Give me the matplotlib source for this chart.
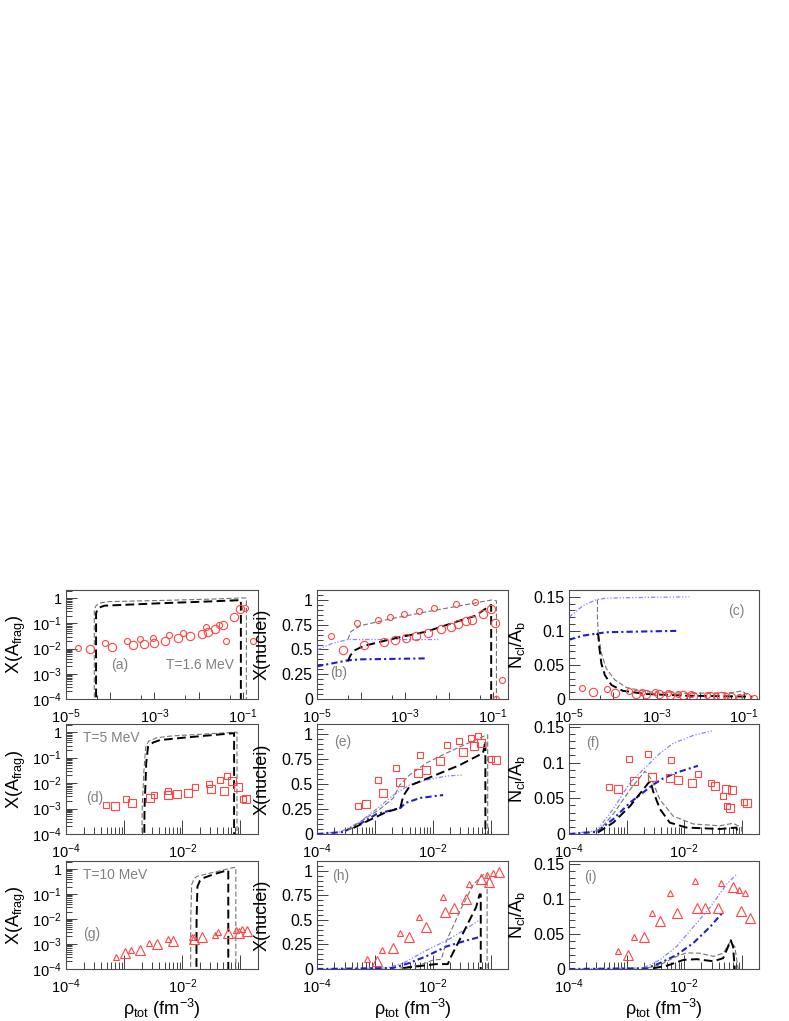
import numpy as np
import matplotlib
matplotlib.use('Agg')
import matplotlib.pyplot as plt
from matplotlib.ticker import FixedLocator, FuncFormatter, NullFormatter, MultipleLocator

plt.rcParams['font.family'] = ['Liberation Sans', 'DejaVu Sans']
plt.rcParams['mathtext.fontset'] = 'custom'
plt.rcParams['mathtext.rm'] = 'Liberation Sans'
plt.rcParams['mathtext.it'] = 'Liberation Sans:italic'
plt.rcParams['mathtext.bf'] = 'Liberation Sans:bold'

# ---- data (log10 of density for x; log10 for log-y panels) ----
# panel (a)  T=1.6 MeV
a_small_lx = [-4.72, -4.12, -3.63, -3.33, -3.03, -2.68, -2.35, -1.84, -1.54, -1.38, -0.95, -0.78]
a_small_ly = [-1.96, -1.79, -1.69, -1.63, -1.59, -1.48, -1.37, -1.16, -1.08, -1.69, -0.41, -1.69]
a_large_lx = [-4.45, -3.96, -3.48, -3.24, -3.00, -2.75, -2.47, -2.20, -1.93, -1.79, -1.63, -1.44, -1.21, -1.06]
a_large_ly = [-2.03, -1.94, -1.86, -1.80, -1.77, -1.69, -1.59, -1.51, -1.41, -1.34, -1.23, -1.07, -0.76, -0.45]
a_black_lx = [-4.32, -4.32, -4.29, -4.24, -4.13, -2.82, -1.73, -1.06, -1.045, -1.045]
a_black_ly = [-6.0, -0.60, -0.45, -0.37, -0.30, -0.20, -0.13, -0.08, -0.08, -6.0]
a_gray_lx = [-4.36, -4.36, -4.32, -4.24, -4.07, -2.82, -1.73, -0.99, -0.92, -0.92]
a_gray_ly = [-6.0, -0.45, -0.30, -0.20, -0.14, -0.09, -0.04, 0.01, 0.0, -6.0]

# panel (b)
b_small_lx = [-4.69, -4.09, -3.61, -3.33, -3.03, -2.67, -2.33, -1.85, -1.40, -0.92, -0.80]
b_small_y = [0.64, 0.77, 0.80, 0.825, 0.86, 0.89, 0.92, 0.96, 0.98, 0.0, 0.19]
b_large_lx = [-4.42, -3.94, -3.48, -3.23, -2.98, -2.74, -2.48, -2.19, -1.95, -1.80, -1.61, -1.47, -1.22, -1.04, -0.96]
b_large_y = [0.49, 0.55, 0.58, 0.60, 0.62, 0.64, 0.67, 0.71, 0.73, 0.76, 0.79, 0.80, 0.855, 0.905, 0.77]
b_gray_lx = [-4.30, -4.23, -4.01, -3.26, -2.51, -1.76, -1.02, -0.92, -0.92]
b_gray_y = [0.60, 0.68, 0.74, 0.815, 0.88, 0.94, 1.00, 0.99, 0.0]
b_black_lx = [-4.30, -4.24, -4.15, -3.94, -3.26, -2.51, -1.76, -1.40, -1.04, -1.04]
b_black_y = [0.38, 0.44, 0.49, 0.535, 0.61, 0.68, 0.79, 0.84, 0.95, 0.0]
b_lblue_lx = [-5.0, -4.66, -4.30, -3.37, -2.21]
b_lblue_y = [0.495, 0.56, 0.60, 0.60, 0.60]
b_dblue_lx = [-5.0, -4.30, -4.01, -2.51]
b_dblue_y = [0.33, 0.39, 0.40, 0.41]

# panel (c)
c_small_lx = [-4.71, -4.13, -3.62, -3.33, -3.03, -2.74, -2.50, -2.22, -1.84, -1.64, -1.42, -1.11, -0.77]
c_small_y = [0.0166, 0.0142, 0.0117, 0.0107, 0.0098, 0.0083, 0.0073, 0.0068, 0.0059, 0.0049, 0.0044, 0.0034, 0.001]
c_large_lx = [-4.45, -3.95, -3.46, -3.23, -2.95, -2.69, -2.40, -2.17, -1.78, -1.53, -1.30, -0.95]
c_large_y = [0.0098, 0.0083, 0.0073, 0.0073, 0.0073, 0.0059, 0.0054, 0.0049, 0.0044, 0.0044, 0.0034, 0.0024]
c_lblue_lx = [-5.0, -4.68, -4.37, -4.14, -3.38, -2.25]
c_lblue_y = [0.12, 0.137, 0.146, 0.148, 0.149, 0.15]
c_dblue_lx = [-5.0, -4.68, -4.37, -4.14, -3.38, -2.55]
c_dblue_y = [0.087, 0.093, 0.096, 0.098, 0.099, 0.10]
c_black_lx = [-4.37, -4.33, -4.31, -4.26, -4.18, -4.03, -3.77, -3.23, -2.32, -0.81]
c_black_y = [0.096, 0.094, 0.077, 0.052, 0.035, 0.0205, 0.012, 0.0073, 0.0049, 0.0034]
c_gray_lx = [-4.35, -4.35, -4.33, -4.26, -4.15, -3.95, -3.69, -3.23, -2.32, -1.27, -1.04, -0.89]
c_gray_y = [0.146, 0.12, 0.096, 0.067, 0.045, 0.028, 0.017, 0.0107, 0.0083, 0.0093, 0.012, 0.0034]

# panel (d)  T=5 MeV
d_small_lx = [-3.31, -2.96, -2.49, -2.24, -1.78, -1.55, -1.35, -1.23, -0.95]
d_small_ly = [-2.87, -2.63, -2.47, -2.31, -2.17, -2.04, -1.88, -1.72, -2.63]
d_large_lx = [-3.16, -2.87, -2.56, -2.24, -2.10, -1.90, -1.50, -1.29, -1.14, -1.04, -0.90]
d_large_ly = [-2.90, -2.77, -2.57, -2.47, -2.44, -2.39, -2.24, -2.30, -1.92, -2.17, -2.64]
d_black_lx = [-2.66, -2.65, -2.62, -2.59, -2.50, -2.385, -2.0, -1.125, -1.11, -1.11]
d_black_ly = [-6.0, -3.0, -1.2, -0.57, -0.40, -0.31, -0.22, -0.04, -0.04, -6.0]
d_gray_lx = [-2.70, -2.69, -2.66, -2.63, -2.58, -2.44, -2.20, -1.08, -1.06, -1.06]
d_gray_ly = [-6.0, -3.0, -1.5, -0.60, -0.35, -0.22, -0.15, 0.0, 0.0, -6.0]

# panel (e)
e_small_lx = [-3.30, -2.94, -2.63, -2.22, -1.75, -1.55, -1.33, -1.21, -0.99]
e_small_y = [0.28, 0.54, 0.66, 0.79, 0.89, 0.93, 0.96, 0.98, 0.75]
e_large_lx = [-3.16, -2.86, -2.57, -2.25, -2.11, -1.88, -1.48, -1.29, -1.17, -0.90]
e_large_y = [0.30, 0.41, 0.52, 0.61, 0.64, 0.73, 0.82, 0.88, 0.915, 0.74]
e_gray_lx = [-3.46, -3.26, -2.91, -2.68, -2.57, -2.40, -2.11, -1.76, -1.42, -1.07, -1.05, -1.05]
e_gray_y = [0.04, 0.12, 0.25, 0.36, 0.49, 0.59, 0.71, 0.81, 0.90, 0.99, 0.99, 0.0]
e_black_lx = [-3.37, -3.09, -2.80, -2.56, -2.51, -2.39, -1.99, -1.53, -1.13, -1.09, -1.09]
e_black_y = [0.06, 0.14, 0.22, 0.26, 0.38, 0.485, 0.58, 0.69, 0.81, 0.93, 0.0]
e_lblue_lx = [-4.0, -3.60, -3.26, -2.97, -2.68, -2.40, -2.11, -1.76, -1.48]
e_lblue_y = [0.0, 0.02, 0.12, 0.25, 0.39, 0.49, 0.54, 0.58, 0.59]
e_dblue_lx = [-4.0, -3.55, -3.26, -2.97, -2.56, -2.47, -2.22, -1.82]
e_dblue_y = [0.0, 0.02, 0.10, 0.20, 0.26, 0.31, 0.36, 0.39]

# panel (f)
f_small_lx = [-3.30, -2.95, -2.62, -2.22, -1.76, -1.54, -1.32, -1.25, -0.96]
f_small_y = [0.066, 0.105, 0.112, 0.104, 0.084, 0.071, 0.053, 0.039, 0.045]
f_large_lx = [-3.15, -2.87, -2.56, -2.25, -2.10, -1.87, -1.47, -1.27, -1.20, -1.16, -0.90]
f_large_y = [0.063, 0.074, 0.080, 0.078, 0.076, 0.072, 0.067, 0.063, 0.037, 0.061, 0.044]
f_lblue_lx = [-4.0, -3.52, -3.23, -2.94, -2.65, -2.42, -2.19, -1.84, -1.49]
f_lblue_y = [0.0, 0.0046, 0.035, 0.072, 0.095, 0.113, 0.127, 0.138, 0.145]
f_dblue_lx = [-4.0, -3.52, -3.23, -2.94, -2.65, -2.54, -2.36, -2.13, -1.76]
f_dblue_y = [0.0, 0.003, 0.021, 0.044, 0.062, 0.069, 0.078, 0.086, 0.0955]
f_gray_lx = [-3.50, -3.23, -2.94, -2.68, -2.56, -2.42, -2.19, -1.84, -1.38, -1.15, -1.00, -1.00]
f_gray_y = [0.003, 0.028, 0.062, 0.088, 0.076, 0.048, 0.025, 0.014, 0.0115, 0.015, 0.009, 0.0]
f_black_lx = [-3.50, -3.23, -2.94, -2.62, -2.58, -2.54, -2.42, -2.25, -1.96, -1.38, -1.09, -1.07]
f_black_y = [0.002, 0.016, 0.039, 0.0715, 0.074, 0.060, 0.035, 0.016, 0.009, 0.007, 0.009, 0.0]

# panel (g)  T=10 MeV
g_small_lx = [-3.14, -2.88, -2.57, -2.25, -1.84, -1.44, -1.38, -1.07, -0.97]
g_small_ly = [-3.50, -3.23, -2.96, -2.79, -2.70, -2.65, -2.52, -2.43, -2.40]
g_large_lx = [-2.99, -2.73, -2.44, -2.16, -1.80, -1.66, -1.22, -1.03, -0.88]
g_large_ly = [-3.36, -3.23, -3.00, -2.86, -2.79, -2.72, -2.56, -2.54, -2.46]
g_gray_lx = [-1.86, -1.855, -1.84, -1.80, -1.75, -1.50, -1.12, -1.08, -1.08]
g_gray_ly = [-6.0, -2.0, -0.63, -0.40, -0.29, -0.15, 0.06, 0.06, -6.0]
g_black_lx = [-1.76, -1.755, -1.74, -1.70, -1.64, -1.45, -1.24, -1.21, -1.21]
g_black_ly = [-6.0, -2.0, -0.70, -0.48, -0.36, -0.20, -0.06, -0.06, -6.0]

# panel (h)
h_small_lx = [-3.13, -2.87, -2.57, -2.24, -1.82, -1.37, -1.06, -0.96]
h_small_y = [0.10, 0.19, 0.37, 0.53, 0.73, 0.87, 0.96, 0.98]
h_large_lx = [-2.97, -2.69, -2.41, -2.11, -1.79, -1.63, -1.42, -1.16, -1.02, -0.86]
h_large_y = [0.083, 0.21, 0.33, 0.43, 0.58, 0.62, 0.71, 0.92, 0.89, 0.99]
h_lblue_lx = [-4.0, -2.80, -2.51, -2.11, -1.76, -1.42, -1.19]
h_lblue_y = [0.0, 0.01, 0.06, 0.19, 0.29, 0.41, 0.50]
h_dblue_lx = [-4.0, -2.69, -2.41, -2.11, -1.76, -1.42, -1.16]
h_dblue_y = [0.0, 0.01, 0.06, 0.13, 0.23, 0.29, 0.33]
h_gray_lx = [-2.57, -2.22, -2.00, -1.85, -1.76, -1.53, -1.30, -1.13, -1.06, -1.06]
h_gray_y = [0.01, 0.04, 0.09, 0.10, 0.29, 0.59, 0.86, 0.96, 0.96, 0.0]
h_black_lx = [-2.51, -2.22, -1.94, -1.74, -1.68, -1.48, -1.25, -1.19, -1.17, -1.17]
h_black_y = [0.01, 0.03, 0.05, 0.05, 0.13, 0.36, 0.63, 0.76, 0.76, 0.0]

# panel (i)
i_small_lx = [-3.14, -2.87, -2.56, -2.24, -1.81, -1.36, -1.04, -0.94]
i_small_y = [0.025, 0.045, 0.080, 0.108, 0.125, 0.122, 0.1125, 0.108]
i_large_lx = [-2.98, -2.70, -2.42, -2.13, -1.78, -1.63, -1.41, -1.15, -1.02, -0.86]
i_large_y = [0.020, 0.045, 0.068, 0.080, 0.087, 0.087, 0.087, 0.117, 0.083, 0.073]
i_lblue_lx = [-4.0, -2.71, -2.42, -2.13, -1.84, -1.55, -1.26, -1.09]
i_lblue_y = [0.0, 0.0014, 0.013, 0.032, 0.060, 0.088, 0.121, 0.135]
i_dblue_lx = [-4.0, -2.65, -2.42, -2.13, -1.84, -1.55, -1.31]
i_dblue_y = [0.0, 0.001, 0.0084, 0.020, 0.037, 0.060, 0.0825]
i_gray_lx = [-2.65, -2.42, -2.13, -1.96, -1.73, -1.49, -1.32, -1.20, -1.12, -1.06]
i_gray_y = [0.0014, 0.006, 0.018, 0.023, 0.0225, 0.018, 0.0225, 0.039, 0.032, 0.0]
i_black_lx = [-2.54, -2.30, -2.01, -1.78, -1.49, -1.32, -1.19, -1.15, -1.12]
i_black_y = [0.001, 0.0047, 0.013, 0.014, 0.011, 0.0155, 0.041, 0.032, 0.0]

RED = '#ff4646'
LBLUE = '#8484ff'
DBLUE = '#1e1ed2'

W, H = 789, 1021
fig = plt.figure(figsize=(W / 100, H / 100), dpi=100)
cols = [(66, 258), (317, 508), (569, 759)]
rows = [(590, 699), (724, 834), (861, 969)]


def logfmt(v, pos, keep):
    e = int(round(np.log10(v)))
    if keep is not None and e not in keep:
        return ''
    if e == 0:
        return '1'
    return r'$\mathregular{10^{%d}}$' % e


def make_ax(r, c):
    x0, x1 = cols[c]
    y0, y1 = rows[r]
    ax = fig.add_axes([x0 / W, 1 - y1 / H, (x1 - x0) / W, (y1 - y0) / H])
    ax.set_xscale('log')
    ax.xaxis.set_major_locator(FixedLocator(10.0 ** np.arange(-5, 0)))
    if r == 0:
        ax.set_xlim(1e-5, 0.22)
        keep = [-5, -3, -1]
        ax.xaxis.set_minor_locator(FixedLocator(5 * 10.0 ** np.arange(-6, 0)))
        xmaj, xmin = 5, 3
    else:
        ax.set_xlim(1e-4, 0.2)
        keep = [-4, -2]
        ax.xaxis.set_minor_locator(FixedLocator(np.outer(10.0 ** np.arange(-6, 0), np.arange(2, 10)).ravel()))
        xmaj, xmin = 10, 5
    ax.xaxis.set_major_formatter(FuncFormatter(lambda v, p: logfmt(v, p, keep)))
    ax.xaxis.set_minor_formatter(NullFormatter())
    if c == 0:
        ax.set_yscale('log')
        ax.set_ylim(1e-4, 2.1)
        ax.yaxis.set_major_locator(FixedLocator(10.0 ** np.arange(-4, 1)))
        ax.yaxis.set_minor_locator(FixedLocator(np.outer(10.0 ** np.arange(-4, 1), np.arange(2, 10)).ravel()))
        ax.yaxis.set_major_formatter(FuncFormatter(lambda v, p: logfmt(v, p, None)))
        ax.yaxis.set_minor_formatter(NullFormatter())
        ax.set_ylabel(r'X(A$_{\mathregular{frag}}$)', fontsize=13)
        ax.yaxis.set_label_coords(-0.20, 0.5)
        ax.tick_params(axis='y', labelsize=10.5)
    elif c == 1:
        ax.set_ylim(0, 1.1)
        ax.yaxis.set_major_locator(MultipleLocator(0.25))
        ax.yaxis.set_minor_locator(MultipleLocator(0.05))
        ax.yaxis.set_major_formatter(FuncFormatter(lambda v, p: '%g' % v))
        ax.set_ylabel('X(nuclei)', fontsize=13)
        ax.yaxis.set_label_coords(-0.245, 0.5)
        ax.tick_params(axis='y', labelsize=11.5)
    else:
        ax.set_ylim(0, 0.16 if r == 0 else 0.154)
        ax.yaxis.set_major_locator(MultipleLocator(0.05))
        ax.yaxis.set_minor_locator(MultipleLocator(0.01))
        ax.yaxis.set_major_formatter(FuncFormatter(lambda v, p: '%g' % round(v, 3)))
        ax.set_ylabel(r'N$_{\mathregular{cl}}$/A$_{\mathregular{b}}$', fontsize=13)
        ax.yaxis.set_label_coords(-0.22, 0.5)
        ax.tick_params(axis='y', labelsize=11.5)
    ax.tick_params(which='both', direction='in', top=False, right=False,
                   color='0.25', width=0.7)
    ax.tick_params(axis='y', which='major', length=8)
    ax.tick_params(axis='y', which='minor', length=4)
    ax.tick_params(axis='x', which='major', length=xmaj)
    ax.tick_params(axis='x', which='minor', length=xmin)
    ax.tick_params(axis='x', labelsize=10.5, pad=6)
    ax.tick_params(axis='y', pad=3)
    for s in ax.spines.values():
        s.set_linewidth(0.8)
        s.set_color('0.3')
    if r == 2:
        ax.set_xlabel(r'$\mathregular{\rho_{tot}\ (fm^{-3})}$', fontsize=13)
        ax.xaxis.set_label_coords(0.5, -0.26)
    return ax


def p(v):
    return 10.0 ** np.array(v)


def black(ax, lx, y):
    ax.plot(p(lx), y, color='black', lw=1.4, dashes=(4.5, 2.2))


def gray(ax, lx, y):
    ax.plot(p(lx), y, color='0.45', lw=0.8, dashes=(4.5, 2.2))


def lblue(ax, lx, y):
    ax.plot(p(lx), y, color=LBLUE, lw=0.9, dashes=(3.5, 1.5, 1, 1.5, 1, 1.5))


def dblue(ax, lx, y):
    ax.plot(p(lx), y, color=DBLUE, lw=1.5, dashes=(3, 1.5, 1, 1.5))


def pts(ax, lx, y, m, ms):
    ax.plot(p(lx), y, ls='none', marker=m, ms=ms, mfc='none', mec=RED, mew=0.8)


def label(ax, x, y, s):
    ax.text(x, y, s, transform=ax.transAxes, color='0.5', fontsize=10,
            ha='left', va='center')


# row 1
ax = make_ax(0, 0)
gray(ax, a_gray_lx, p(a_gray_ly))
black(ax, a_black_lx, p(a_black_ly))
pts(ax, a_small_lx, p(a_small_ly), 'o', 4.3)
pts(ax, a_large_lx, p(a_large_ly), 'o', 6.0)
label(ax, 0.235, 0.31, '(a)')
label(ax, 0.52, 0.31, 'T=1.6 MeV')

ax = make_ax(0, 1)
lblue(ax, b_lblue_lx, b_lblue_y)
dblue(ax, b_dblue_lx, b_dblue_y)
gray(ax, b_gray_lx, b_gray_y)
black(ax, b_black_lx, b_black_y)
pts(ax, b_small_lx, b_small_y, 'o', 4.3)
pts(ax, b_large_lx, b_large_y, 'o', 6.0)
label(ax, 0.07, 0.24, '(b)')

ax = make_ax(0, 2)
lblue(ax, c_lblue_lx, c_lblue_y)
dblue(ax, c_dblue_lx, c_dblue_y)
gray(ax, c_gray_lx, c_gray_y)
black(ax, c_black_lx, c_black_y)
pts(ax, c_small_lx, c_small_y, 'o', 4.3)
pts(ax, c_large_lx, c_large_y, 'o', 6.0)
label(ax, 0.84, 0.81, '(c)')

# row 2
ax = make_ax(1, 0)
gray(ax, d_gray_lx, p(d_gray_ly))
black(ax, d_black_lx, p(d_black_ly))
pts(ax, d_small_lx, p(d_small_ly), 's', 4.2)
pts(ax, d_large_lx, p(d_large_ly), 's', 6.0)
label(ax, 0.09, 0.87, 'T=5 MeV')
label(ax, 0.105, 0.33, '(d)')

ax = make_ax(1, 1)
lblue(ax, e_lblue_lx, e_lblue_y)
dblue(ax, e_dblue_lx, e_dblue_y)
gray(ax, e_gray_lx, e_gray_y)
black(ax, e_black_lx, e_black_y)
pts(ax, e_small_lx, e_small_y, 's', 4.2)
pts(ax, e_large_lx, e_large_y, 's', 6.0)
label(ax, 0.09, 0.84, '(e)')

ax = make_ax(1, 2)
lblue(ax, f_lblue_lx, f_lblue_y)
dblue(ax, f_dblue_lx, f_dblue_y)
gray(ax, f_gray_lx, f_gray_y)
black(ax, f_black_lx, f_black_y)
pts(ax, f_small_lx, f_small_y, 's', 4.2)
pts(ax, f_large_lx, f_large_y, 's', 6.0)
label(ax, 0.09, 0.83, '(f)')

# row 3
ax = make_ax(2, 0)
gray(ax, g_gray_lx, p(g_gray_ly))
black(ax, g_black_lx, p(g_black_ly))
pts(ax, g_small_lx, p(g_small_ly), '^', 5.0)
pts(ax, g_large_lx, p(g_large_ly), '^', 7.0)
label(ax, 0.09, 0.87, 'T=10 MeV')
label(ax, 0.09, 0.32, '(g)')

ax = make_ax(2, 1)
lblue(ax, h_lblue_lx, h_lblue_y)
dblue(ax, h_dblue_lx, h_dblue_y)
gray(ax, h_gray_lx, h_gray_y)
black(ax, h_black_lx, h_black_y)
pts(ax, h_small_lx, h_small_y, '^', 5.0)
pts(ax, h_large_lx, h_large_y, '^', 7.0)
label(ax, 0.08, 0.86, '(h)')

ax = make_ax(2, 2)
lblue(ax, i_lblue_lx, i_lblue_y)
dblue(ax, i_dblue_lx, i_dblue_y)
gray(ax, i_gray_lx, i_gray_y)
black(ax, i_black_lx, i_black_y)
pts(ax, i_small_lx, i_small_y, '^', 5.0)
pts(ax, i_large_lx, i_large_y, '^', 7.0)
label(ax, 0.08, 0.85, '(i)')

fig.savefig('out.png', dpi=100)
